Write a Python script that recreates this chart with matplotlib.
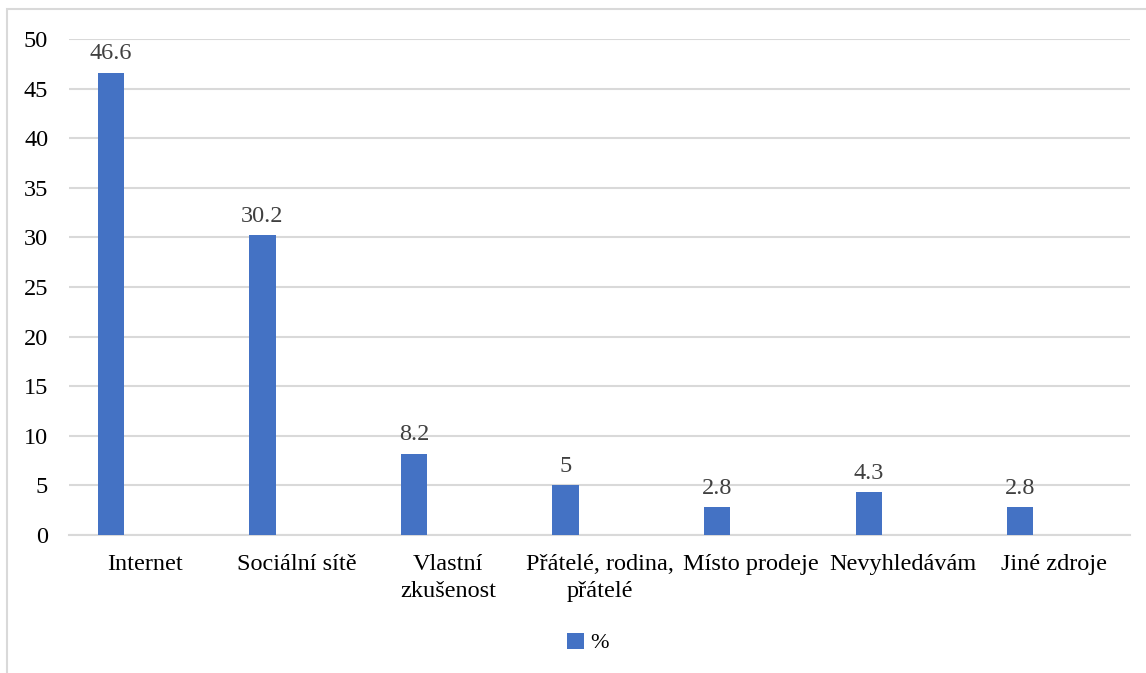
import numpy as np
import matplotlib.pyplot as plt
from matplotlib.patches import Rectangle

plt.rcParams['font.family'] = ['Liberation Serif', 'DejaVu Serif']

kategorie = ['Internet', 'Sociální sítě', 'Vlastní\nzkušenost', 'Přátelé, rodina,\npřátelé',
             'Místo prodeje', 'Nevyhledávám', 'Jiné zdroje']
hodnoty = [46.6, 30.2, 8.2, 5, 2.8, 4.3, 2.8]
popisky = ['46.6', '30.2', '8.2', '5', '2.8', '4.3', '2.8']
yticky = [0, 5, 10, 15, 20, 25, 30, 35, 40, 45, 50]

modra = '#4472c4'
seda = '#d9d9d9'

rys = plt.figure(figsize=(11.46, 6.73), dpi=100)
# ramecek grafu (orezany vpravo a dole)
rys.patches.append(Rectangle((7 / 1146, -0.1), 1.2, 1.1 - 10 / 673 + 0.001,
                             transform=rys.transFigure, fill=False,
                             edgecolor=seda, linewidth=1.5))

os = rys.add_axes([69 / 1146, 1 - 535 / 673, (1130 - 69) / 1146, (535 - 39) / 673])
x = np.arange(len(kategorie))
sloupce = os.bar(x - 0.224, hodnoty, width=0.173, color=modra, label='%', zorder=3)

for s, t in zip(sloupce, popisky):
    os.annotate(t, (s.get_x() + s.get_width() / 2, s.get_height()),
                xytext=(0, 6), textcoords='offset points', ha='center', va='bottom',
                fontsize=17.5, color='#404040')

os.set_xlim(-0.5, len(kategorie) - 0.5)
os.set_ylim(0, 50)
os.set_yticks(yticky)
os.set_yticklabels([str(v) for v in yticky], fontsize=17.5)
os.set_xticks(x)
os.set_xticklabels(kategorie, fontsize=17.5, linespacing=1.35)
os.tick_params(axis='both', length=0)
os.tick_params(axis='y', pad=15)
os.tick_params(axis='x', pad=14)
os.grid(axis='y', color=seda, linewidth=1.5, zorder=0)
for strana in ['top', 'right', 'left']:
    os.spines[strana].set_visible(False)
os.spines['bottom'].set_color(seda)
os.spines['bottom'].set_linewidth(1.5)

os.legend(loc='center', bbox_to_anchor=(588 / 1146, 1 - 643 / 673), bbox_transform=rys.transFigure,
          frameon=False, fontsize=16, handlelength=0.75, handleheight=0.75, handletextpad=0.3)

plt.savefig('out.png', dpi=100)
